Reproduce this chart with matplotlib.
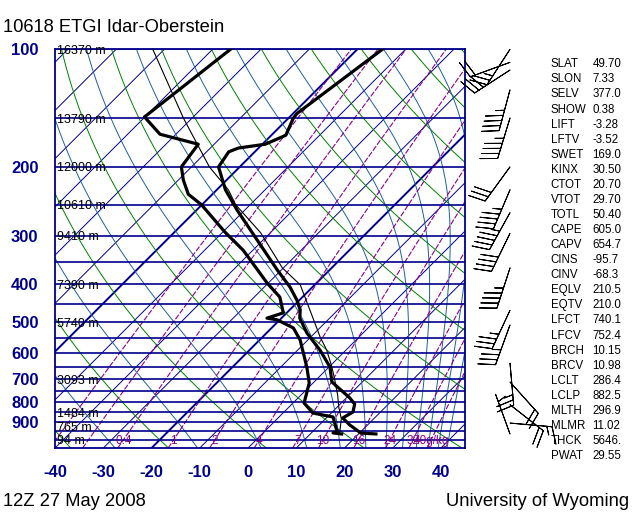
import numpy as np
import matplotlib
matplotlib.use('Agg')
import matplotlib.pyplot as plt
from matplotlib import transforms

plt.rcParams['font.family'] = ['Liberation Sans', 'DejaVu Sans']

# sounding (hPa, deg C)
temp_p = [966, 961, 916, 879, 849, 810, 781, 711, 651, 589, 533, 488, 465, 439,
          406, 367, 308, 258, 229, 200, 183, 179, 175, 166, 150, 146, 100]
temp_c = [23.6, 20.3, 16.3, 13.4, 14.3, 13.0, 10.7, 3.7, 0.2, -5.4, -11.6, -16.2,
          -17.8, -20.5, -24.7, -30.9, -41.2, -51.6, -58.2, -64.4, -65.4, -64.2,
          -59.4, -57.0, -59.0, -59.2, -54.8]

dwpt_p = [966, 960, 949, 906, 874, 854, 805, 715, 651, 555, 517, 493, 488, 473,
          431, 397, 327, 294, 250, 235, 216, 200, 175, 165, 149, 100]
dwpt_c = [16.5, 14.5, 14.9, 12.8, 11.2, 6.2, 2.3, -0.8, -4.6, -11.6, -15.5, -20.5,
          -23.0, -20.7, -24.7, -30.2, -42.0, -49.5, -60.1, -65.0, -69.0, -72.1,
          -73.3, -83.3, -90.1, -86.3]

parcel_p = [955, 882.5, 824, 768, 703, 651, 589, 545, 465, 401, 363, 295, 250,
            229, 200, 150, 100]
parcel_c = [15.7, 13.25, 10.3, 7.6, 3.9, 0.6, -4.0, -8.1, -15.8, -23.0, -30.2,
            -42.0, -53.0, -57.6, -66.3, -81.8, -102.4]

# winds (hPa, direction from, knots)
wind_p = [966, 906, 813, 711, 636, 508, 466, 363, 296, 262, 229, 200, 150, 127,
          113, 108, 100]
wind_dir = [340, 95, 128, 138, 175, 200, 205, 198, 206, 209, 203, 216, 197, 195,
            237, 250, 213]
wind_kt = [5, 15, 20, 20, 25, 35, 35, 45, 40, 45, 45, 30, 45, 45, 30, 20, 25]

# labels
pres_labels = [100, 200, 300, 400, 500, 600, 700, 800, 900]
height_p = [100, 150, 200, 250, 300, 400, 500, 700, 850, 925, 1000]
height_txt = ['16370 m', '13790 m', '12000 m', '10610 m', '9410 m', '7390 m',
              '5740 m', '3093 m', '1484 m', '765 m', '94 m']
temp_ticks = [-40, -30, -20, -10, 0, 10, 20, 30, 40]
mixr_vals = [0.1, 0.2, 0.4, 1, 2, 4, 7, 10, 16, 24, 32, 40]
mixr_txt = ['', '', '0.4', '1', '2', '4', '7', '10', '16', '24', '32', '40g/kg']

index_names = ['SLAT', 'SLON', 'SELV', 'SHOW', 'LIFT', 'LFTV', 'SWET', 'KINX',
               'CTOT', 'VTOT', 'TOTL', 'CAPE', 'CAPV', 'CINS', 'CINV', 'EQLV',
               'EQTV', 'LFCT', 'LFCV', 'BRCH', 'BRCV', 'LCLT', 'LCLP', 'MLTH',
               'MLMR', 'THCK', 'PWAT']
index_vals = ['49.70', '7.33', '377.0', '0.38', '-3.28', '-3.52', '169.0', '30.50',
              '20.70', '29.70', '50.40', '605.0', '654.7', '-95.7', '-68.3', '210.5',
              '210.0', '740.1', '752.4', '10.15', '10.98', '286.4', '882.5', '296.9',
              '11.02', '5646.', '29.55']

P_BOT, P_TOP = 1050.0, 100.0
T_MIN, T_MAX = -40.0, 45.0
SKEW = 35.16  # deg C per ln(p): 45 degree isotherms
NAVY = '#00008b'
GREEN = '#008000'
MOIST = '#1f5f9f'
PURPLE = '#8b008b'


def skew_x(t, p):
    return np.asarray(t, float) + SKEW * np.log(P_BOT / np.asarray(p, float))


def sat_vp(tc):
    return 6.112 * np.exp(17.67 * tc / (tc + 243.5))


def theta_e(tk, p):
    es = np.minimum(sat_vp(tk - 273.15), 0.5 * p)
    r = 0.622 * es / (p - es)
    return tk * (1000.0 / p) ** 0.2857 * np.exp(2.5e6 * r / (1004.0 * tk))


def moist_adiabat(te, p):
    lo = np.full_like(p, 100.0)
    hi = np.full_like(p, 330.0)
    for _ in range(50):
        mid = 0.5 * (lo + hi)
        big = theta_e(mid, p) > te
        hi = np.where(big, mid, hi)
        lo = np.where(big, lo, mid)
    return 0.5 * (lo + hi) - 273.15


def mixr_dewpoint(w, p):
    e = w * p / (622.0 + w)
    a = np.log(e / 6.112)
    return 243.5 * a / (17.67 - a)


fig = plt.figure(figsize=(6.4, 5.12), dpi=100)
ax_bot = 1 - 448.1 / 512
ax_h = (448.1 - 49.3) / 512
ax = fig.add_axes([55 / 640, ax_bot, 410 / 640, ax_h])
ax.set_yscale('log')
ax.set_ylim(P_BOT, P_TOP)
ax.set_xlim(T_MIN, T_MAX)
ax.set_xticks([])
ax.set_yticks([])
ax.minorticks_off()
for s in ax.spines.values():
    s.set_color(NAVY)
    s.set_linewidth(1.3)

pp = np.exp(np.linspace(np.log(P_BOT), np.log(P_TOP), 200))

# isotherms
for t in range(-130, 50, 10):
    lw = 1.4 if t in (-20, -60) else 0.7
    ax.plot(skew_x([t, t], [P_BOT, P_TOP]), [P_BOT, P_TOP], color=NAVY, lw=lw, zorder=1)

# dry adiabats
for th in range(-40, 200, 20):
    tt = (th + 273.15) * (pp / 1000.0) ** 0.2857 - 273.15
    ax.plot(skew_x(tt, pp), pp, color=GREEN, lw=0.7, zorder=1)

# moist adiabats
for te in range(-30, 200, 20):
    tt = moist_adiabat(te + 273.15, pp)
    ax.plot(skew_x(tt, pp), pp, color=MOIST, lw=0.7, zorder=1)

# mixing ratio lines
for w, lab in zip(mixr_vals, mixr_txt):
    td = mixr_dewpoint(w, pp)
    ax.plot(skew_x(td, pp), pp, color=PURPLE, lw=0.8, dashes=(5, 1.5), zorder=1)
    if lab:
        ax.text(skew_x(mixr_dewpoint(w, 1000.0), 1000.0), 1000.0, lab, color=PURPLE,
                fontsize=8.5, ha='center', va='center_baseline', zorder=6)

# isobars
for p in [100, 150, 200, 250] + list(range(300, 1001, 50)):
    ax.axhline(p, color=NAVY, lw=1.2, zorder=2)

# sounding
ax.plot(skew_x(parcel_c, parcel_p), parcel_p, color='black', lw=0.8, zorder=4)
ax.plot(skew_x(temp_c, temp_p), temp_p, color='black', lw=2.3, zorder=5,
        solid_joinstyle='round')
ax.plot(skew_x(dwpt_c, dwpt_p), dwpt_p, color='black', lw=2.3, zorder=5,
        solid_joinstyle='round')

# labels
ytrans = transforms.blended_transform_factory(ax.transAxes, ax.transData)
for p in pres_labels:
    ax.text(-0.04, p, str(p), transform=ytrans, ha='right', va='center_baseline',
            fontsize=12, fontweight='bold', color=NAVY, clip_on=False)
for p, txt in zip(height_p, height_txt):
    ax.text(0.004, p, txt, transform=ytrans, ha='left', va='center_baseline',
            fontsize=9, color='black', zorder=6)
for t in temp_ticks:
    ax.text(t, -0.0574, str(t), transform=ax.get_xaxis_transform(), ha='center',
            va='center_baseline', fontsize=12, fontweight='bold', color=NAVY,
            clip_on=False)

# wind barbs
ax_w = fig.add_axes([470 / 640, ax_bot, 80 / 640, ax_h])
ax_w.set_yscale('log')
ax_w.set_ylim(P_BOT, P_TOP)
ax_w.set_xlim(0, 1)
ax_w.axis('off')
rad = np.deg2rad(wind_dir)
u = -np.array(wind_kt) * np.sin(rad)
v = -np.array(wind_kt) * np.cos(rad)
ax_w.barbs(np.full(len(wind_p), 0.5), wind_p, u, v, length=7.8, lw=0.7,
           color='black', clip_on=False)

# station indices
for i, (name, val) in enumerate(zip(index_names, index_vals)):
    yb = 1 - (67.3 + 15.07 * i) / 512
    fig.text(550.5 / 640, yb, name, fontsize=8.3, va='baseline')
    fig.text(592.5 / 640, yb, val, fontsize=8.3, va='baseline')

fig.text(3 / 640, 1 - 31.7 / 512, '10618 ETGI Idar-Oberstein', fontsize=13.2,
         va='baseline')
fig.text(3 / 640, 1 - 506 / 512, '12Z 27 May 2008', fontsize=13.2, va='baseline')
fig.text(629 / 640, 1 - 506 / 512, 'University of Wyoming', fontsize=13.2,
         va='baseline', ha='right')

fig.savefig('out.png', dpi=100)
